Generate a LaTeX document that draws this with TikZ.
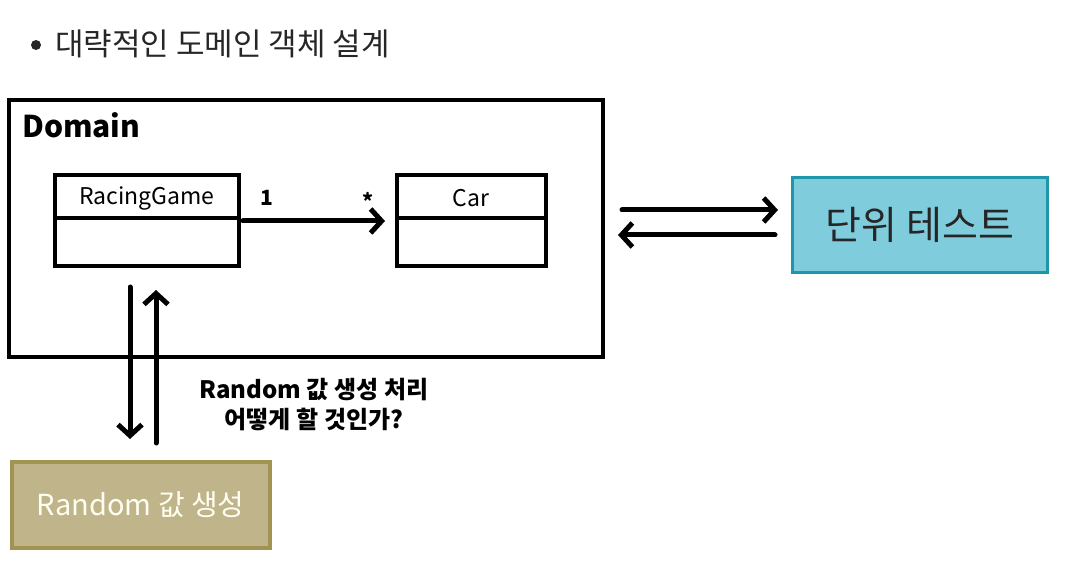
\documentclass[tikz,border=0pt]{standalone}
\usepackage{fontspec}
\setmainfont{Noto Sans CJK KR}
\usetikzlibrary{arrows.meta}
\definecolor{testfill}{HTML}{7FCCDD}
\definecolor{testdraw}{HTML}{2096AA}
\definecolor{randfill}{HTML}{BFB48A}
\definecolor{randdraw}{HTML}{A09450}
\tikzset{
  fs/.style={font=\fontsize{#1}{#1}\selectfont},
  fsb/.style={font=\fontsize{#1}{#1}\selectfont\bfseries},
  conn/.style={line width=5pt, -{Straight Barb[length=11pt,width=24pt,line width=5pt]}, line cap=round},
}
\begin{document}
\begin{tikzpicture}[x=1pt,y=-1pt]
\useasboundingbox (0,0) rectangle (1071,569);
% title
\fill[black!85] (36,45) circle (5);
\node[anchor=west, fs=31, text=black!85, inner sep=0] (title) at (55,44) {대략적인 도메인 객체 설계};
% domain frame
\draw[line width=4.5pt] (9,100) rectangle (603,357);
\node[anchor=west, fsb=30, inner sep=0] (dom) at (22,125) {Domain};
% RacingGame class
\draw[line width=3.5pt] (55,175) rectangle (239,266);
\draw[line width=3.5pt] (55,218) -- (239,218);
\node[fs=23, inner sep=0] (rg) at (147,198) {RacingGame};
\coordinate (rgE) at (243,221);
% Car class
\draw[line width=3.5pt] (397,175) rectangle (546,266);
\draw[line width=3.5pt] (397,218) -- (546,218);
\node[fs=23, inner sep=0] (car) at (471,198) {Car};
\coordinate (carW) at (385,221);
\draw[conn] (rgE) -- (carW);
\node[fsb=21, inner sep=0] (one) at (267,198) {1};
\node[fsb=21, inner sep=0] (star) at (368,201) {*};
% vertical arrows
\coordinate (d1) at (130,287);
\coordinate (d2) at (130,439);
\coordinate (u1) at (156,443);
\coordinate (u2) at (156,290);
\draw[conn] (d1) -- (d2);
\draw[conn] (u1) -- (u2);
\node[fsb=24, inner sep=0, align=center] (q) at (314,405) {Random 값 생성 처리\\[6pt]어떻게 할 것인가?};
% random box
\node[draw=randdraw, fill=randfill, line width=3.5pt, minimum width=258pt, minimum height=86pt, inner sep=0, fs=29, text=white!95!yellow, anchor=north west] (rand) at (10,460) {Random 값 생성};
% unit test box
\node[draw=testdraw, fill=testfill, line width=3pt, minimum width=255pt, minimum height=95pt, inner sep=0, fs=39, text=black!85, anchor=north west] (test) at (791,176) {단위 테스트};
\coordinate (r1) at (622,210);
\coordinate (r2) at (778,210);
\coordinate (l1) at (775,235);
\coordinate (l2) at (618,235);
\draw[conn] (r1) -- (r2);
\draw[conn] (l1) -- (l2);
\end{tikzpicture}
\end{document}
